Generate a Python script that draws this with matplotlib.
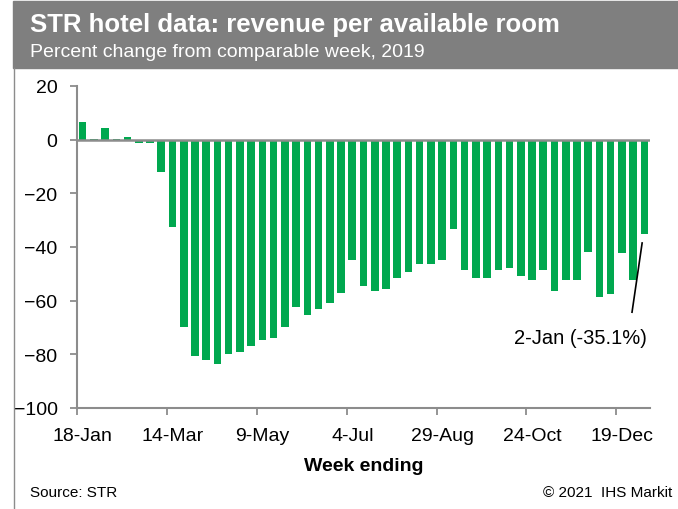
import numpy as np
import matplotlib
matplotlib.use('Agg')
import matplotlib.pyplot as plt
import pandas as pd

plt.rcParams['font.family'] = ['Liberation Sans', 'DejaVu Sans']

# weekly RevPAR, % change vs comparable week of 2019
weeks = pd.date_range('2020-01-18', periods=51, freq='7D')
week_labels = [f"{d.day}-{d.strftime('%b')}" for d in weeks]
revpar = [6.6, 0.3, 4.2, 0.4, 1.1, -1.3, -1.3, -12.0, -32.4, -70.0,
          -80.7, -82.2, -83.7, -80.0, -79.1, -76.9, -74.5, -73.8, -70.0, -62.3,
          -65.4, -63.2, -60.8, -57.0, -44.9, -54.6, -56.3, -55.5, -51.7, -49.5,
          -46.4, -46.4, -44.9, -33.4, -48.6, -51.7, -51.7, -48.6, -48.0, -50.8,
          -52.3, -48.6, -56.3, -52.3, -52.3, -41.7, -58.6, -57.7, -42.4, -52.3,
          -35.1]
label_every = 8

green = '#00A84F'
grey = '#8C8C8C'

fig = plt.figure(figsize=(6.78, 5.10), dpi=100)

# header band
band = plt.Rectangle((13/678, 1 - 69/510), 1 - 13/678, 67/510,
                     transform=fig.transFigure, color='#7F7F7F', zorder=0)
fig.patches.append(band)
fig.lines.append(plt.Line2D([14/678, 14/678], [0, 1 - 69/510],
                            transform=fig.transFigure, color=grey, lw=1))
fig.text(30/678, 1 - 32/510, 'STR hotel data: revenue per available room',
         color='white', fontsize=18.5, fontweight='bold', va='baseline')
fig.text(30/678, 1 - 57/510, 'Percent change from comparable week, 2019',
         color='white', fontsize=14, va='baseline')

ax = fig.add_axes([77/678, 1 - 409/510, 573/678, 322/510])
x = np.arange(len(revpar))
ax.bar(x, revpar, width=0.68, color=green, zorder=2)
ax.axhline(0, color=grey, lw=1.8, zorder=3)

ax.set_xlim(-0.5, len(revpar) - 0.5)
ax.set_ylim(-100, 20)
ax.set_yticks(np.arange(-100, 21, 20))

ax.set_xticks(x[::label_every])
ax.set_xticklabels(week_labels[::label_every])
ax.set_xticks(np.arange(-0.5, len(revpar), label_every), minor=True)
ax.tick_params(axis='x', which='major', length=0, pad=14, labelsize=14)
ax.tick_params(axis='x', which='minor', length=5, color=grey, width=1.3)
ax.tick_params(axis='y', length=5, color=grey, width=1.3, pad=9, labelsize=14)

for s in ['top', 'right']:
    ax.spines[s].set_visible(False)
for s in ['left', 'bottom']:
    ax.spines[s].set_color(grey)
    ax.spines[s].set_linewidth(1.5)

ax.set_xlabel('Week ending', fontsize=14, fontweight='bold', labelpad=9)

# callout for the latest week
last = len(revpar) - 1
ax.plot([last - 0.2, last - 1.1], [revpar[-1] - 3.4, revpar[-1] - 29.2],
        color='black', lw=1.2, zorder=4)
ax.text(last - 5.7, revpar[-1] - 38.5,
        f"{weeks[-1].day}-{weeks[-1].strftime('%b')} ({revpar[-1]}%)",
        ha='center', va='center', fontsize=14.5)

fig.text(30/678, 1 - 497/510, 'Source: STR', fontsize=11, va='baseline')
fig.text(672/678, 1 - 497/510, '\u00a9 2021  IHS Markit', fontsize=11,
         va='baseline', ha='right')

fig.savefig('out.png', dpi=100)
